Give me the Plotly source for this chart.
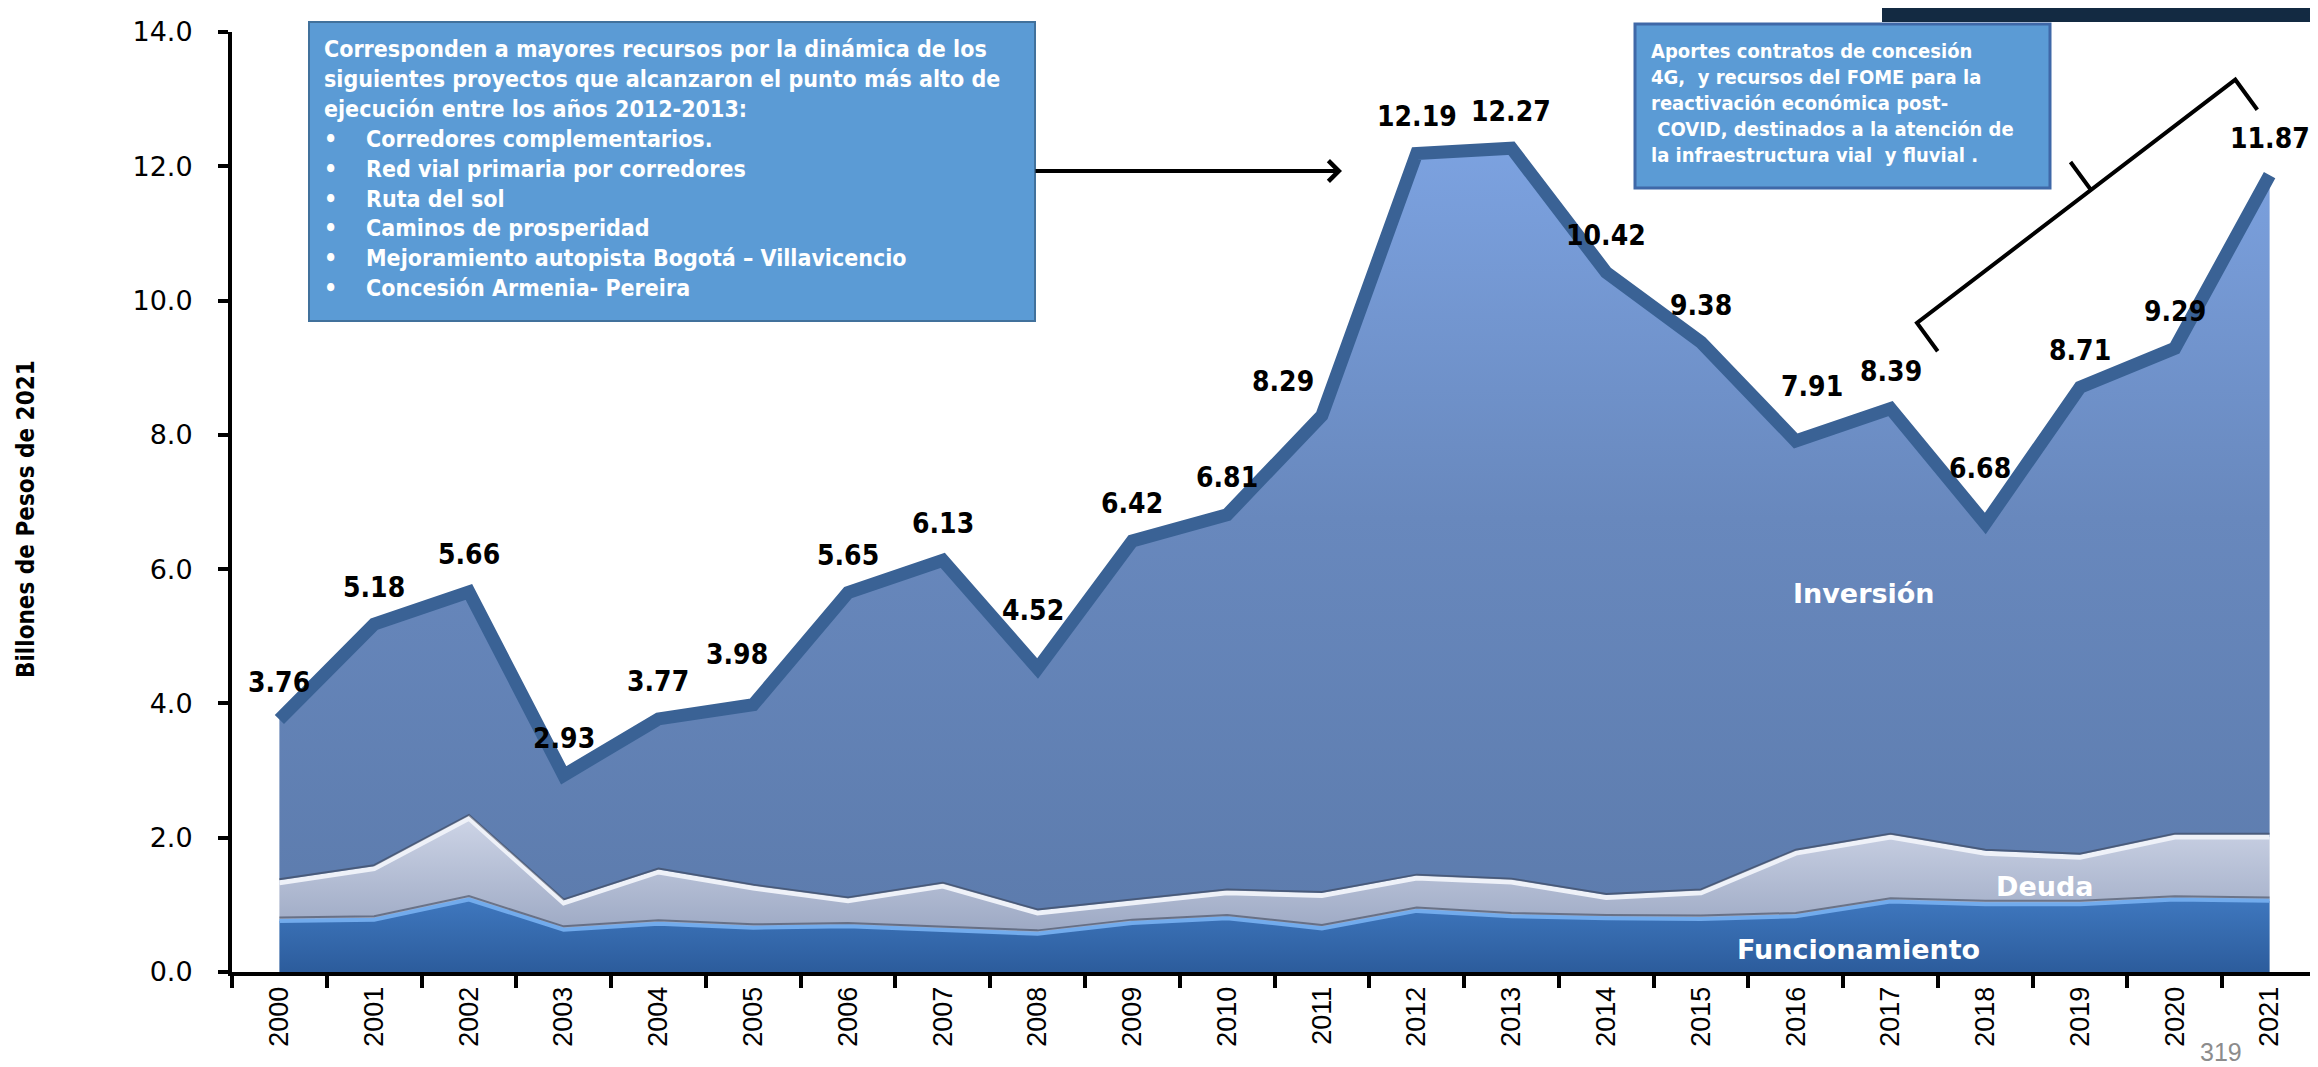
import plotly.graph_objects as go

# ---------------------------------------------------------------
# Datos (billones de pesos de 2021)
# ---------------------------------------------------------------
ANIOS = [str(a) for a in range(2000, 2022)]
TOTAL = [3.76, 5.18, 5.66, 2.93, 3.77, 3.98, 5.65, 6.13, 4.52, 6.42, 6.81,
         8.29, 12.19, 12.27, 10.42, 9.38, 7.91, 8.39, 6.68, 8.71, 9.29, 11.87]
FUNCIONAMIENTO = [0.76, 0.78, 1.08, 0.63, 0.72, 0.66, 0.68, 0.63, 0.57, 0.73, 0.80,
                  0.65, 0.91, 0.83, 0.80, 0.79, 0.83, 1.05, 1.01, 1.01, 1.08, 1.06]
DEUDA = [0.57, 0.76, 1.21, 0.40, 0.77, 0.59, 0.38, 0.65, 0.31, 0.30, 0.38,
         0.49, 0.49, 0.51, 0.31, 0.39, 0.94, 0.96, 0.76, 0.70, 0.93, 0.95]
INVERSION = [round(t - f - d, 2) for t, f, d in zip(TOTAL, FUNCIONAMIENTO, DEUDA)]

Y_TICKS = [0, 2, 4, 6, 8, 10, 12, 14]

TEXTO_CAJA_1 = [
    "Corresponden a mayores recursos por la dinámica de los",
    "siguientes proyectos que alcanzaron el punto más alto de",
    "ejecución entre los años 2012-2013:",
]
VINETAS_CAJA_1 = [
    "Corredores complementarios.",
    "Red vial primaria por corredores",
    "Ruta del sol",
    "Caminos de prosperidad",
    "Mejoramiento autopista Bogotá – Villavicencio",
    "Concesión Armenia- Pereira",
]
TEXTO_CAJA_2 = [
    "Aportes contratos de concesión",
    "4G,  y recursos del FOME para la",
    "reactivación económica post-",
    " COVID, destinados a la atención de",
    "la infraestructura vial  y fluvial .",
]

# ajustes manuales de las etiquetas (xshift, yshift) en px
AJUSTE_ETIQUETAS = {"2005": (-16, 50), "2008": (-5, 58), "2011": (-39, 34),
                    "2016": (16, 54), "2018": (-5, 55)}

W, H = 2318, 1067
ML, MR, MT, MB = 224, 9, 24, 103
PW, PH = W - ML - MR, H - MT - MB


def px(x):
    return (x - ML) / PW


def py(y):
    return (H - MB - y) / PH


COND = "DejaVu Sans Condensed, Liberation Sans Narrow, Liberation Sans, sans-serif"

fig = go.Figure()

fig.add_trace(go.Scatter(
    x=ANIOS, y=FUNCIONAMIENTO, name="Funcionamiento", stackgroup="one",
    mode="lines", line=dict(color="#72ABEC", width=4),
    fillgradient=dict(type="vertical", start=0, stop=1.1,
                      colorscale=[[0, "#2C5C9C"], [1, "#3F78BF"]]),
    hoverinfo="skip"))
fig.add_trace(go.Scatter(
    x=ANIOS, y=DEUDA, name="Deuda", stackgroup="one",
    mode="lines", line=dict(color="#EEF1F8", width=5),
    fillgradient=dict(type="vertical", start=0.6, stop=2.3,
                      colorscale=[[0, "#9DA9C4"], [1, "#CDD4E6"]]),
    hoverinfo="skip"))
fig.add_trace(go.Scatter(
    x=ANIOS, y=INVERSION, name="Inversión", stackgroup="one",
    mode="lines", line=dict(color="#3A6295", width=13),
    fillgradient=dict(type="vertical", start=0, stop=12.3,
                      colorscale=[[0, "#5B7AAB"], [0.55, "#6888BD"], [1, "#7CA2E0"]]),
    hoverinfo="skip"))

# sombras finas sobre los bordes de Deuda y Funcionamiento
tope_deuda = [f + d for f, d in zip(FUNCIONAMIENTO, DEUDA)]
for serie in (tope_deuda, FUNCIONAMIENTO):
    fig.add_trace(go.Scatter(x=ANIOS, y=[v + 0.05 for v in serie], mode="lines",
                             line=dict(color="rgba(55,62,80,0.55)", width=2),
                             hoverinfo="skip"))

anots = []
for i, (anio, v) in enumerate(zip(ANIOS, TOTAL)):
    dx, dy = AJUSTE_ETIQUETAS.get(anio, (0, 37))
    anots.append(dict(x=i, y=v, xref="x", yref="y", text=f"<b>{v:.2f}</b>", showarrow=False,
                      xanchor="center", yanchor="middle",
                      xshift=dx, yshift=dy, font=dict(family=COND, size=28, color="black")))

for txt, xi, yi in [("Inversión", 16.72, 5.63), ("Deuda", 18.63, 1.27),
                    ("Funcionamiento", 16.66, 0.33)]:
    anots.append(dict(x=xi, y=yi, xref="x", yref="y", text=f"<b>{txt}</b>",
                      showarrow=False, xanchor="center", yanchor="middle",
                      font=dict(family="DejaVu Sans, sans-serif", size=27, color="white")))

# cajas de texto
nb = "\u00a0"
cuerpo1 = "<br>".join(TEXTO_CAJA_1 + [f"•{nb*4}{t}" for t in VINETAS_CAJA_1])
anots.append(dict(x=px(314), y=py(160), xref="paper", yref="paper", xanchor="left",
                  yanchor="middle", align="left", text=f"<b>{cuerpo1}</b>", showarrow=False,
                  font=dict(family=COND, size=23, color="white")))
anots.append(dict(x=px(1641), y=py(95), xref="paper", yref="paper", xanchor="left",
                  yanchor="middle", align="left", text="<b>" + "<br>".join(TEXTO_CAJA_2) + "</b>",
                  showarrow=False, font=dict(family=COND, size=20, color="white")))

# flecha
anots.append(dict(x=px(1334), y=py(163), xref="paper", yref="paper", text="",
                  showarrow=True, ax=-308, ay=0, arrowhead=4, arrowsize=1,
                  arrowwidth=4, arrowcolor="black"))

# titulo eje y y numero de pagina
anots.append(dict(x=px(18), y=py(511), xref="paper", yref="paper", textangle=-90,
                  xanchor="center", yanchor="middle",
                  text="<b>Billones de Pesos de 2021</b>", showarrow=False,
                  font=dict(family=COND, size=24, color="black")))
anots.append(dict(x=px(2213), y=py(1044), xref="paper", yref="paper", text="319",
                  xanchor="center", yanchor="middle", showarrow=False,
                  font=dict(family="Liberation Sans, sans-serif", size=25, color="#8C8C8C")))

shapes = [
    dict(type="rect", xref="paper", yref="paper", x0=px(301), x1=px(1027), y0=py(313), y1=py(14),
         fillcolor="#5B9BD5", line=dict(color="#41719C", width=2), layer="above"),
    dict(type="rect", xref="paper", yref="paper", x0=px(1627), x1=px(2042), y0=py(180), y1=py(16),
         fillcolor="#5B9BD5", line=dict(color="#3F68A8", width=3), layer="above"),
    dict(type="rect", xref="paper", yref="paper", x0=px(1874), x1=px(2318), y0=py(14), y1=py(0),
         fillcolor="#132A42", line=dict(width=0), layer="above"),
]
bracket = [(1929.7, 343.3), (1909, 315), (2227.3, 71.7), (2249.3, 101.7)]
path = "M " + " L ".join(f"{px(a):.5f},{py(b):.5f}" for a, b in bracket)
path += f" M {px(2083):.5f},{py(182):.5f} L {px(2062.5):.5f},{py(154):.5f}"
shapes.append(dict(type="path", xref="paper", yref="paper", path=path,
                   line=dict(color="black", width=4), layer="above"))

fig.update_layout(
    width=W, height=H,
    margin=dict(l=ML, r=MR, t=MT, b=MB, autoexpand=False),
    paper_bgcolor="white", plot_bgcolor="white",
    showlegend=False,
    annotations=anots, shapes=shapes,
    xaxis=dict(type="category", categoryorder="array", categoryarray=ANIOS,
               range=[-0.5, len(ANIOS) - 0.5], tickson="boundaries", ticks="outside", ticklen=12,
               tickwidth=4, tickcolor="black", showline=True, linecolor="black", linewidth=4,
               showgrid=False, tickangle=-90, automargin=False,
               tickfont=dict(family="Liberation Sans, sans-serif", size=27, color="black")),
    yaxis=dict(range=[0, 14], tickvals=Y_TICKS, tickformat=".1f", ticks="outside", ticklen=10,
               tickwidth=4, tickcolor="black", showline=True, linecolor="black", linewidth=4,
               showgrid=False, zeroline=False, automargin=False, ticklabelstandoff=20,
               tickfont=dict(family="DejaVu Sans, sans-serif", size=27, color="black")),
)

fig.write_html("out.html")
